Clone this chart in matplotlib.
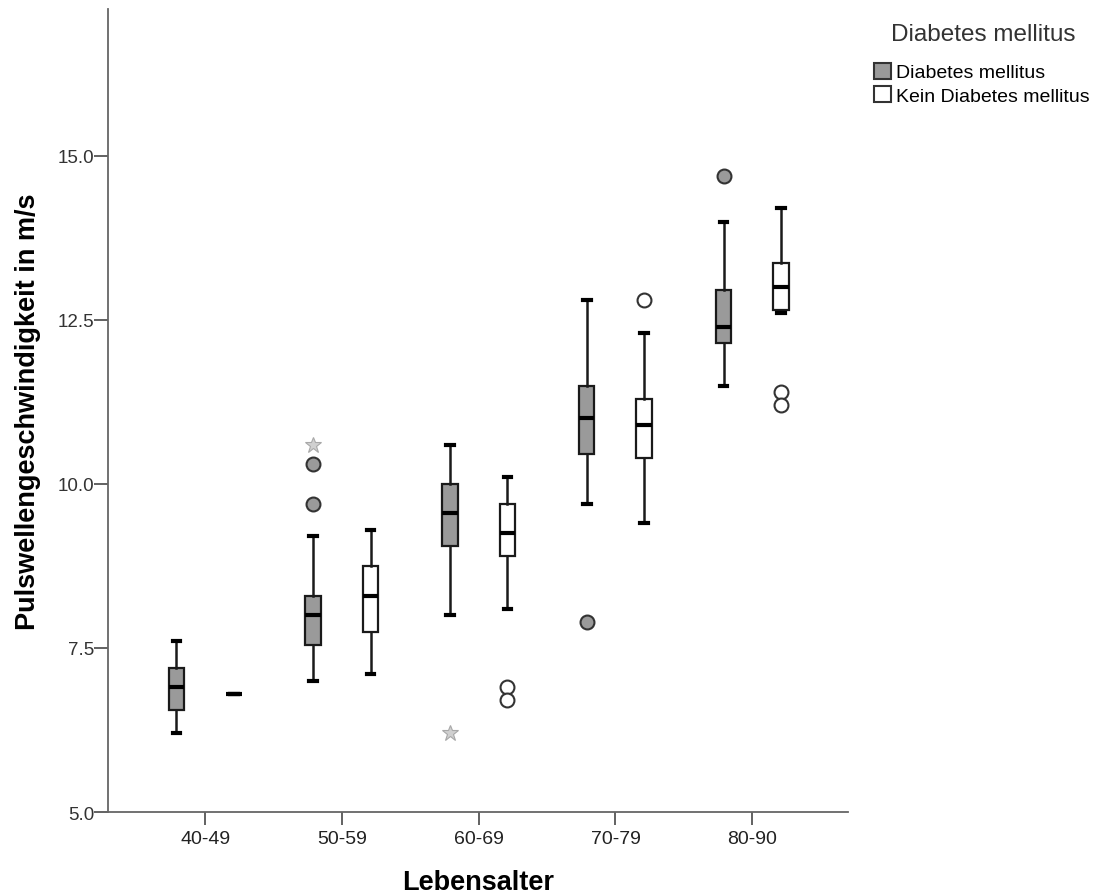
import matplotlib.pyplot as plt
from matplotlib.patches import Patch
import numpy as np

plt.rcParams['font.family'] = ['Liberation Sans', 'DejaVu Sans']

## Daten

gruppen = ['40-49', '50-59', '60-69', '70-79', '80-90']

# Diabetes mellitus: unterer Whisker, Q1, Median, Q3, oberer Whisker
dm_low = [6.2, 7.0, 8.0, 9.7, 11.5]
dm_q1 = [6.55, 7.55, 9.05, 10.45, 12.15]
dm_med = [6.9, 8.0, 9.55, 11.0, 12.4]
dm_q3 = [7.2, 8.3, 10.0, 11.5, 12.95]
dm_high = [7.6, 9.2, 10.6, 12.8, 14.0]
dm_out = [[], [10.3, 9.7], [], [7.9], [14.7]]
dm_extrem = [[], [10.6], [6.2], [], []]

# Kein Diabetes mellitus
kd_low = [6.8, 7.1, 8.1, 9.4, 12.6]
kd_q1 = [6.8, 7.75, 8.9, 10.4, 12.65]
kd_med = [6.8, 8.3, 9.25, 10.9, 13.0]
kd_q3 = [6.8, 8.75, 9.7, 11.3, 13.37]
kd_high = [6.8, 9.3, 10.1, 12.3, 14.2]
kd_out = [[], [], [6.9, 6.7], [12.8], [11.4, 11.2]]
kd_extrem = [[], [], [], [], []]

def stats(low, q1, med, q3, high, out):
    return [dict(whislo=a, q1=b, med=c, q3=d, whishi=e, fliers=f)
            for a, b, c, d, e, f in zip(low, q1, med, q3, high, out)]

## Plot

fig = plt.figure(figsize=(10.94, 8.95), dpi=100)
ax = fig.add_axes([108/1094, 82/895, 740/1094, 803/895])

x = np.arange(len(gruppen))
off = 0.21
breite = 0.113

def zeichne(st, pos, farbe):
    ax.bxp(st, positions=pos, widths=breite, patch_artist=True,
           capwidths=0.055, manage_ticks=False,
           boxprops=dict(facecolor=farbe, edgecolor='#1a1a1a', linewidth=1.6),
           medianprops=dict(color='black', linewidth=3.0),
           whiskerprops=dict(color='#1a1a1a', linewidth=1.8),
           capprops=dict(color='black', linewidth=3.0),
           flierprops=dict(marker='o', markerfacecolor=farbe, markeredgecolor='#333333',
                           markeredgewidth=1.5, markersize=10))

zeichne(stats(dm_low, dm_q1, dm_med, dm_q3, dm_high, dm_out), x - off, '#9a9a9a')
zeichne(stats(kd_low, kd_q1, kd_med, kd_q3, kd_high, kd_out), x + off, 'white')

for i in range(len(gruppen)):
    for v in dm_extrem[i]:
        ax.plot(x[i] - off, v, marker='*', markerfacecolor='#d0d0d0',
                markeredgecolor='#a8a8a8', markersize=12, markeredgewidth=0.8)
    for v in kd_extrem[i]:
        ax.plot(x[i] + off, v, marker='*', markerfacecolor='#d0d0d0',
                markeredgecolor='#a8a8a8', markersize=12, markeredgewidth=0.8)

ax.set_xlim(-0.71, 4.70)
ax.set_ylim(5.0, 17.24)
ax.set_xticks(x)
ax.set_xticklabels(gruppen)
ax.set_yticks([5.0, 7.5, 10.0, 12.5, 15.0])
ax.set_yticklabels(['5.0', '7.5', '10.0', '12.5', '15.0'])
ax.tick_params(axis='y', length=10, width=1.3, pad=0, labelsize=13.5, colors='#555555', labelcolor='#333333')
ax.tick_params(axis='x', length=9, width=1.3, pad=4, labelsize=14, colors='#555555', labelcolor='#222222')

for s in ['top', 'right']:
    ax.spines[s].set_visible(False)
for s in ['left', 'bottom']:
    ax.spines[s].set_color('#666666')
    ax.spines[s].set_linewidth(1.3)

ax.set_xlabel('Lebensalter', fontsize=19.5, fontweight='bold')
ax.xaxis.set_label_coords(0.5, -0.071)
ax.set_ylabel('Pulswellengeschwindigkeit in m/s', fontsize=19.5, fontweight='bold')
ax.yaxis.set_label_coords(-0.091, 0.5)

# Legende
fig.text(983/1094, 1 - 35/895, 'Diabetes mellitus', fontsize=17.5, color='#333333',
         ha='center', va='center')
handles = [Patch(facecolor='#9a9a9a', edgecolor='#333333', linewidth=1.5),
           Patch(facecolor='white', edgecolor='#333333', linewidth=1.5)]
leg = fig.legend(handles, ['Diabetes mellitus', 'Kein Diabetes mellitus'],
                 loc='upper left', bbox_to_anchor=(874/1094, 1 - 64/895), frameon=False,
                 fontsize=14, borderpad=0, borderaxespad=0,
                 handlelength=0.85, handleheight=0.85, handletextpad=0.3,
                 labelspacing=0.25)

fig.savefig('out.png', dpi=100)
